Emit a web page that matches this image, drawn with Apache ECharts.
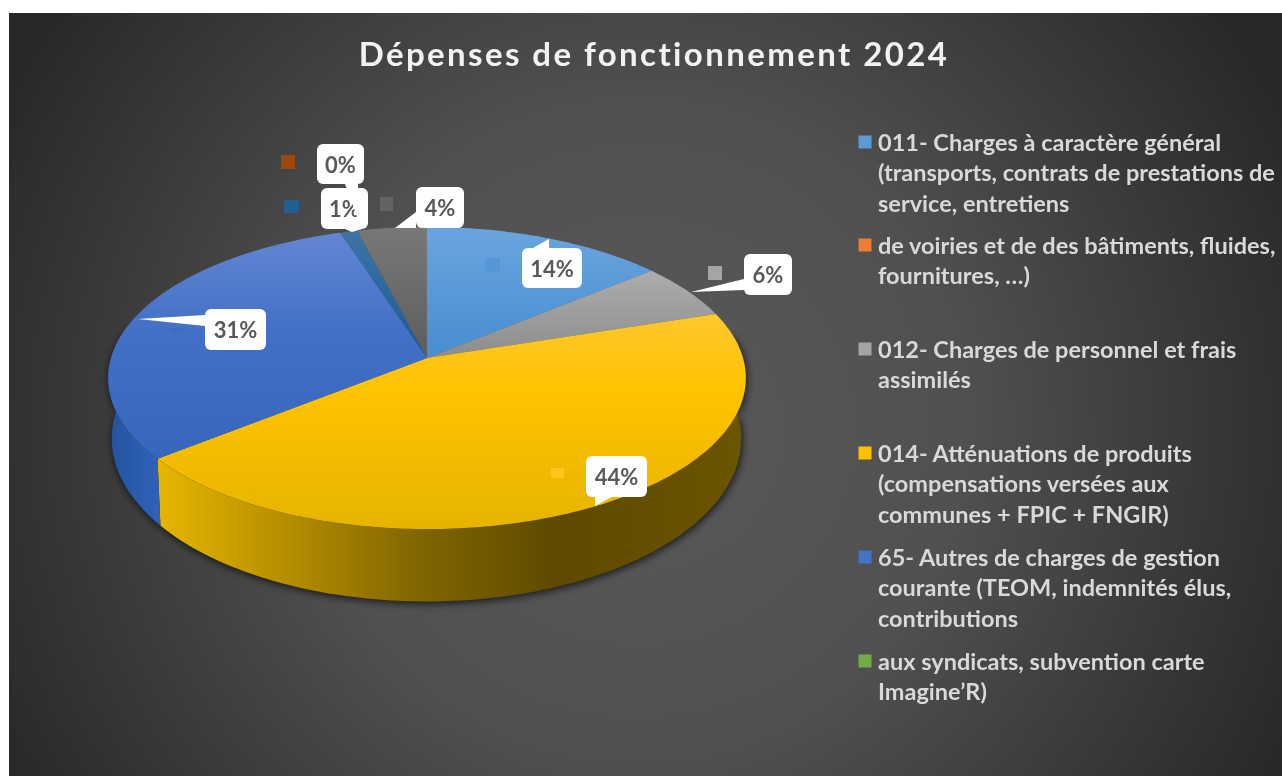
<!DOCTYPE html>
<html lang="fr">
<head>
<meta charset="utf-8">
<style>
html,body{margin:0;padding:0;background:#fff}
#main{width:1282px;height:776px;filter:blur(.45px)}
#main text[style*="33px"]{letter-spacing:2.4px}
</style>
<script src="https://cdn.jsdelivr.net/npm/echarts@6/dist/echarts.min.js"></script>
</head>
<body>
<div id="main"></div>
<script>
const titleText = 'Dépenses de fonctionnement 2024';
const categories = [
  '011- Charges à caractère général (transports, contrats de prestations de service, entretiens',
  'de voiries et de des bâtiments, fluides, fournitures, …)',
  '012- Charges de personnel et frais assimilés',
  '014- Atténuations de produits (compensations versées aux communes + FPIC + FNGIR)',
  '65- Autres de charges de gestion courante (TEOM, indemnités élus, contributions',
  'aux syndicats, subvention carte Imagine’R)',
  'Autre 1', 'Autre 2', 'Autre 3'
];
const values = [14, 0, 6, 44.3, 30.7, 0, 1, 0, 4];
const legendLines = [
  '011- Charges à caractère général\n(transports, contrats de prestations de\nservice, entretiens',
  'de voiries et de des bâtiments, fluides,\nfournitures, …)',
  '012- Charges de personnel et frais\nassimilés',
  '014- Atténuations de produits\n(compensations versées aux\ncommunes + FPIC + FNGIR)',
  '65- Autres de charges de gestion\ncourante (TEOM, indemnités élus,\ncontributions',
  'aux syndicats, subvention carte\nImagine’R)'
];
// ---- styles and layout, separate from the data ----
const sliceColors = ['#5B9BD5','#ED7D31','#A5A5A5','#FFC000','#4472C4','#70AD47','#255E91','#9E480E','#636363'];
const keyColors = ['#5597D6','#ED7D31','#A5A5A5','#FFC61E','#3F6DC2','#70AD47','#255E91','#9E480E','#636363'];
const faceStops = [
  [[0,'#6AA5DF'],[.4,'#4A8FD1'],[1,'#4A8FD1']],
  [[0,'#ED7D31'],[1,'#ED7D31']],
  [[0,'#BDBDBD'],[.42,'#8E8E8E'],[1,'#8E8E8E']],
  [[.2,'#FFC93E'],[.55,'#FFC300'],[1,'#E6B400']],
  [[0,'#6587D4'],[.35,'#4270C5'],[1,'#3060B8']],
  [[0,'#70AD47'],[1,'#70AD47']],
  [[0,'#3F74A6'],[.4,'#1A5E9A'],[1,'#1A5E9A']],
  [[0,'#9E480E'],[1,'#9E480E']],
  [[0,'#787878'],[.42,'#5E5E5E'],[1,'#5E5E5E']]
];
const legendTops = [142,245,349,453,557,661];
const disc = {cx:427, cy:358, A:316, B:148.4, p:0.1325};
const base = {cx:426.5, cy:417, A:312, B:160, p:0.1325};
const callouts = {
  0:{box:[522,248,60,40], tip:[[533,248],[549,239],[549,248]], key:[486,258,14,14]},
  2:{box:[744,254,48,41], tip:[[744,279],[691,292],[744,290]], key:[708,266,14,14]},
  3:{box:[586,456,61,41], tip:[[595,497],[595,506],[612,497]], key:[551,468,13,10]},
  4:{box:[205,309,61,41], tip:[[205,315],[138,319],[205,326]], key:[170,328,13,5]},
  6:{box:[321,188,47,41], tip:[[345,229],[352,232],[362,229]], key:[284,200,15,13]},
  7:{box:[317,144,47,40], tip:[[345,184],[359,222],[358,184]], key:[281,155,14,14]},
  8:{box:[416,187,48,41], tip:[[416,212],[395,228],[416,228]], key:[380,197,13,14]}
};
const labelOrder = {7:20, 6:10, 0:10, 2:10, 3:10, 4:10, 8:10};
const wallStops = {
  3:[[0,'#E8B600'],[.24,'#B08A00'],[.45,'#806500'],[.68,'#5E4900'],[1,'#6B5500']],
  4:[[0,'#24529F'],[1,'#2F63BA']]
};

const total = values.reduce((a,b)=>a+b,0);
function project(d, deg){
  const t = deg*Math.PI/180, u = Math.sin(t), v = -Math.cos(t), w = 1-d.p*v;
  return [d.cx+d.A*u/w, d.cy+d.B*v/w];
}
function arc(d, a, b){
  const pts = [], n = Math.max(2, Math.ceil(Math.abs(b-a)));
  for(let i=0;i<=n;i++) pts.push(project(d, a+(b-a)*i/n));
  return pts;
}
function gradient(x0,y0,x1,y1,stops){
  return new echarts.graphic.LinearGradient(x0,y0,x1,y1,stops.map(s=>({offset:s[0],color:s[1]})),true);
}
function renderSlice(params, api){
  const i = params.dataIndex, val = api.value(0);
  let before = 0;
  for(let k=0;k<i;k++) before += values[k];
  const a0 = before/total*360, a1 = (before+val)/total*360;
  const children = [];
  if(val>0){
    const wa = Math.max(a0,80), wb = Math.min(a1,282);
    if(wb>wa){
      const pts = arc(disc,wa,wb).concat(arc(base,wa,wb).reverse());
      const stops = wallStops[i] || [[0,sliceColors[i]],[1,sliceColors[i]]];
      const x0 = i===4 ? 108 : 157, x1 = i===4 ? 162 : 746;
      children.push({type:'polygon',z2:0,shape:{points:pts},style:{
        fill:'#222',shadowBlur:9,shadowColor:'rgba(0,0,0,.75)',shadowOffsetY:2,shadowOffsetX:1}});
      children.push({type:'polygon',z2:1,shape:{points:pts},style:{fill:gradient(x0,0,x1,0,stops)}});
    }
    const top = [[disc.cx,disc.cy]].concat(arc(disc,a0,a1));
    children.push({type:'polygon',z2:2,shape:{points:top},style:{fill:gradient(0,227,0,529,faceStops[i])}});
  }
  const c = callouts[i];
  if(c){
    const z = labelOrder[i];
    const b = c.box;
    children.push({type:'rect',z2:z-2,shape:{x:c.key[0],y:c.key[1],width:c.key[2],height:c.key[3]},
      style:{fill:keyColors[i]}});
    children.push({type:'rect',z2:z,shape:{x:b[0],y:b[1],width:b[2],height:b[3],r:6},style:{fill:'#fff'}});
    children.push({type:'polygon',z2:z,shape:{points:c.tip},style:{fill:'#fff'}});
    children.push({type:'text',z2:z+1,style:{x:b[0]+b[2]/2,y:b[1]+b[3]/2,text:Math.round(val/total*100)+'%',
      fill:'#595959',font:'bold 22px Lato',align:'center',verticalAlign:'middle'}});
  }
  return {type:'group',children};
}
const chart = echarts.init(document.getElementById('main'),null,{renderer:'svg'});
const graphics = [{type:'rect',z:-10,silent:true,shape:{x:9,y:13,width:1273,height:763},style:{
  fill:new echarts.graphic.RadialGradient(640,430,720,[
    {offset:0,color:'#595959'},{offset:.45,color:'#505050'},{offset:1,color:'#282828'}],true)}}];
legendLines.forEach((t,i)=>{
  graphics.push({type:'rect',z:5,shape:{x:858.5,y:legendTops[i]-6.5,width:13,height:13},style:{fill:sliceColors[i]}});
  graphics.push({type:'text',z:5,x:878,y:legendTops[i]-15.5,style:{text:t,font:'bold 23.5px Lato',fill:'#D9D9D9',lineHeight:30.5,align:'left',verticalAlign:'top'}});
});
chart.setOption({
  animation:false,
  title:{text:titleText,left:649,top:31,textAlign:'center',textStyle:{color:'#F2F2F2',fontFamily:'Lato',fontWeight:'bold',fontSize:33}},
  graphic:{elements:graphics},
  series:[{type:'custom',coordinateSystem:'none',name:'Dépenses',silent:true,
    data:values.map((v,i)=>({name:categories[i],value:[v]})),
    renderItem:renderSlice}]
});
</script>
</body>
</html>
